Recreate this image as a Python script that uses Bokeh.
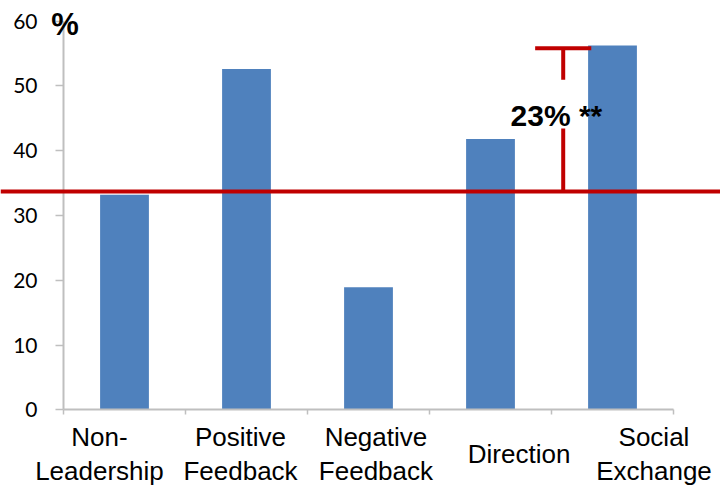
from bokeh.plotting import figure
from bokeh.models import Range1d, LinearAxis, FixedTicker, Span, Label
from bokeh.embed import file_html
from bokeh.resources import INLINE

# ---- data ----
categories = ["Non-Leadership", "Positive Feedback", "Negative Feedback", "Direction", "Social Exchange"]
category_labels = ["Non-\nLeadership", "Positive\nFeedback", "Negative\nFeedback", "Direction", "Social\nExchange"]
values = [33.2, 52.6, 18.9, 41.8, 56.2]
y_ticks = [0, 10, 20, 30, 40, 50, 60]
reference_level = 33.7
diff_text = "23% **"
unit_text = "%"

# ---- layout constants (category units, index i spans [i, i+1]) ----
label_pos = [0.295, 1.451, 2.561, 3.734, 4.840]
bar_width = 0.4
bracket_x = 4.096
bracket_half = 0.23
gap_top, gap_bottom = 50.95, 43.4

PX_PER_CAT = 122.0
PX_PER_UNIT = 6.48
LEFT_PX = 63
ZERO_PX = 409.3
W, H = 720, 489

BLUE = "#4F81BD"
RED = "#C00000"
GRAY = "#BFBFBF"

p = figure(width=W, height=H, output_backend="svg", toolbar_location=None,
           x_axis_type=None, y_axis_type=None,
           x_range=Range1d(-LEFT_PX / PX_PER_CAT, (W - LEFT_PX) / PX_PER_CAT),
           y_range=Range1d(-(H - ZERO_PX) / PX_PER_UNIT, ZERO_PX / PX_PER_UNIT),
           min_border=0)
p.outline_line_color = None
p.background_fill_color = "white"
p.border_fill_color = "white"
p.grid.visible = False

xs = [i + 0.5 for i in range(len(categories))]
p.vbar(x=xs, top=values, bottom=0, width=bar_width, fill_color=BLUE, line_color=None)

# y axis placed at the category-axis origin
yaxis = LinearAxis(fixed_location=0, bounds=(0, 60), ticker=FixedTicker(ticks=y_ticks))
yaxis.axis_line_color = GRAY
yaxis.axis_line_width = 2
yaxis.major_tick_line_color = GRAY
yaxis.major_tick_line_width = 1.5
yaxis.major_tick_out = 8
yaxis.major_tick_in = 0
yaxis.minor_tick_line_color = None
yaxis.major_label_standoff = 18
yaxis.major_label_text_font = "Lato"
yaxis.major_label_text_font_size = "21px"
yaxis.major_label_text_color = "black"
p.add_layout(yaxis, "left")

# x axis at value 0: boundaries as minor ticks, labels at label positions
two_line = [i for i in range(len(categories)) if "\n" in category_labels[i]]
xaxis = LinearAxis(fixed_location=0, bounds=(0, len(categories)),
                   ticker=FixedTicker(ticks=[label_pos[i] for i in two_line],
                                      minor_ticks=list(range(len(categories) + 1))))
xaxis.major_label_overrides = {label_pos[i]: category_labels[i] for i in two_line}
xaxis.axis_line_color = GRAY
xaxis.axis_line_width = 2
xaxis.major_tick_line_color = None
xaxis.major_tick_out = 0
xaxis.major_tick_in = 0
xaxis.minor_tick_line_color = GRAY
xaxis.minor_tick_line_width = 1.5
xaxis.minor_tick_out = 5
xaxis.minor_tick_in = 0
xaxis.major_label_standoff = 7
xaxis.major_label_text_font = "Liberation Sans"
xaxis.major_label_text_font_size = "26px"
xaxis.major_label_text_color = "black"
xaxis.major_label_text_line_height = 1.13
p.add_layout(xaxis, "below")

# single-line category label, vertically centred on the two-line ones
for i in range(len(categories)):
    if i not in two_line:
        p.add_layout(Label(x=label_pos[i], y=-(453 - ZERO_PX) / PX_PER_UNIT, text=category_labels[i],
                           text_align="center", text_baseline="alphabetic",
                           text_font="Liberation Sans", text_font_size="26px", text_color="black"))

# reference line
p.add_layout(Span(location=reference_level, dimension="width", line_color=RED, line_width=4))

# bracket
top = values[-1] - 0.4
p.segment(x0=[bracket_x - bracket_half], y0=[top], x1=[bracket_x + bracket_half], y1=[top],
          line_color=RED, line_width=4)
p.segment(x0=[bracket_x, bracket_x], y0=[top, gap_bottom], x1=[bracket_x, bracket_x],
          y1=[gap_top, reference_level], line_color=RED, line_width=4)

p.add_layout(Label(x=3.664, y=45.4, text=diff_text, text_font="Liberation Sans",
                   text_font_style="bold", text_font_size="30px", text_color="black",
                   text_align="left", text_baseline="alphabetic"))
p.add_layout(Label(x=-0.1, y=59.4, text=unit_text, text_font="Liberation Sans",
                   text_font_style="bold", text_font_size="31px", text_color="black",
                   text_align="left", text_baseline="alphabetic"))

open("out.html", "w").write(file_html(p, INLINE))
